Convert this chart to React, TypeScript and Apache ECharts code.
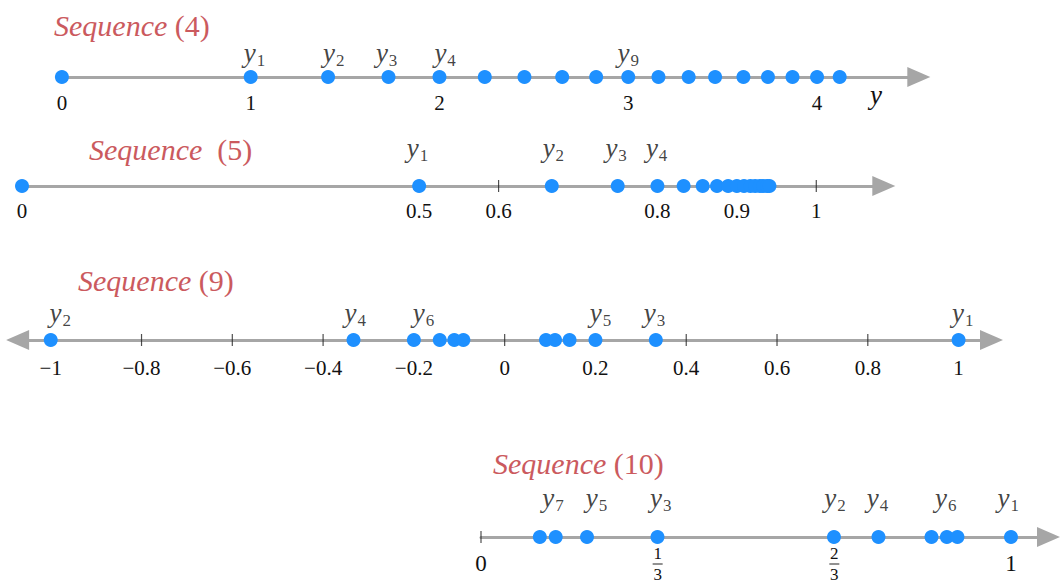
import React, { useEffect, useRef } from 'react';
import * as echarts from 'echarts';

// ---------- data ----------
const seq4Points = [0, 1, 1.41, 1.73, 2, 2.24, 2.45, 2.65, 2.83, 3, 3.16, 3.32, 3.46, 3.61, 3.74, 3.87, 4, 4.12];
const seq4TickLabels = [0, 1, 2, 3, 4];
const seq4TickMarks: number[] = [];
const seq4LabelX = [1.02, 1.44, 1.72, 2.03, 3.0];
const seq4LabelIdx = [1, 2, 3, 4, 9];

const seq5Points = [0, 0.5, 0.667, 0.75, 0.8, 0.833, 0.857, 0.875, 0.889, 0.9, 0.909, 0.917, 0.923, 0.929, 0.933, 0.938, 0.941];
const seq5TickLabels = [0, 0.5, 0.6, 0.8, 0.9, 1];
const seq5TickMarks = [0.6, 0.8, 0.9, 1];
const seq5LabelX = [0.498, 0.669, 0.748, 0.799];
const seq5LabelIdx = [1, 2, 3, 4];

const seq9Points = [1, -1, 0.333, -0.333, 0.2, -0.2, 0.143, -0.143, 0.111, -0.111, 0.091, -0.091];
const seq9TickLabels = [-1, -0.8, -0.6, -0.4, -0.2, 0, 0.2, 0.4, 0.6, 0.8, 1];
const seq9TickMarks = [-0.8, -0.6, -0.4, -0.2, 0, 0.2, 0.4, 0.6, 0.8];
const seq9LabelX = [1.009, -0.979, 0.33, -0.329, 0.211, -0.179];
const seq9LabelIdx = [1, 2, 3, 4, 5, 6];

const seq10Points = [1, 0.666, 0.333, 0.75, 0.2, 0.85, 0.141, 0.879, 0.111, 0.899];
const seq10TickValues = [0, 0.3333, 0.6667, 1];
const seq10TickText = ['0', '1/3', '2/3', '1'];
const seq10TickMarks = [0];
const seq10LabelX = [0.995, 0.668, 0.339, 0.748, 0.218, 0.877, 0.136];
const seq10LabelIdx = [1, 2, 3, 4, 5, 6, 7];

const titleNumbers = ['4', '5', '9', '10'];

// ---------- styles ----------
const SERIF = "'Liberation Serif', 'DejaVu Serif', serif";
const DOT = '#1e90ff';
const AXIS = '#a6a6a6';
const TITLE = '#cb5a5e';

type Cfg = {
  lineY: number;
  left: number;
  right: number;
  min: number;
  max: number;
  points: number[];
  labelX: number[];
  labelIdx: number[];
  tickValues: number[];
  tickText?: string[];
  tickMarks: number[];
  labelGap: number;
  startArrow: boolean;
  labelMargin: number;
};

const cfgs: Cfg[] = [
  { lineY: 77, left: 61.9, right: 918.8, min: 0, max: 4.539, points: seq4Points, labelX: seq4LabelX, labelIdx: seq4LabelIdx, tickValues: seq4TickLabels, tickMarks: seq4TickMarks, labelGap: 13, startArrow: false, labelMargin: 15 },
  { lineY: 186, left: 22, right: 883.8, min: 0, max: 1.085, points: seq5Points, labelX: seq5LabelX, labelIdx: seq5LabelIdx, tickValues: seq5TickLabels, tickMarks: seq5TickMarks, labelGap: 27, startArrow: false, labelMargin: 14 },
  { lineY: 340, left: 17.6, right: 991.5, min: -1.073, max: 1.0725, points: seq9Points, labelX: seq9LabelX, labelIdx: seq9LabelIdx, tickValues: seq9TickLabels, tickMarks: seq9TickMarks, labelGap: 16, startArrow: true, labelMargin: 17 },
  { lineY: 537, left: 481, right: 1048.5, min: 0, max: 1.0708, points: seq10Points, labelX: seq10LabelX, labelIdx: seq10LabelIdx, tickValues: seq10TickValues, tickText: seq10TickText, tickMarks: seq10TickMarks, labelGap: 28, startArrow: false, labelMargin: 9 },
];

const titlePos = [
  { x: 54, y: 25, gap: ' ' },
  { x: 89, y: 149, gap: '  ' },
  { x: 78, y: 280, gap: ' ' },
  { x: 493, y: 463, gap: ' ' },
];

function buildOption() {
  const grid = cfgs.map((c) => ({ left: c.left, width: c.right - c.left, top: c.lineY - 40, height: 40 }));
  const xAxis = cfgs.map((c, i) => ({
    type: 'value',
    gridIndex: i,
    min: c.min,
    max: c.max,
    splitLine: { show: false },
    axisTick: { show: false },
    axisLine: {
      show: true,
      onZero: false,
      symbol: [c.startArrow ? 'triangle' : 'none', 'triangle'],
      symbolSize: [20, 23],
      lineStyle: { color: AXIS, width: 3 },
    },
    axisLabel: {
      customValues: c.tickValues,
      margin: c.labelMargin,
      color: '#111',
      fontFamily: SERIF,
      fontSize: 21,
      formatter: (v: number) => {
        if (c.tickText) {
          const k = c.tickValues.findIndex((t) => Math.abs(t - v) < 1e-6);
          const t = k >= 0 ? c.tickText[k] : String(v);
          if (t.includes('/')) {
            const [a, b] = t.split('/');
            return `{f|${a}}\n{bar| }\n{f|${b}}`;
          }
          return `{big|${t}}`;
        }
        const s = String(v);
        return s.replace('-', '\u2212');
      },
      rich: {
        f: { fontFamily: SERIF, fontSize: 17, lineHeight: 15, color: '#111', align: 'center' },
        bar: { width: 10, height: 1, lineHeight: 6, fontSize: 1, backgroundColor: '#222', align: 'center' },
        big: { fontFamily: SERIF, fontSize: 23, color: '#111', padding: [6, 0, 0, 0] },
      },
    },
  }));
  const yAxis = cfgs.map((c, i) => ({ type: 'value', gridIndex: i, min: 0, max: 1, show: false }));

  const series: any[] = [];
  cfgs.forEach((c, i) => {
    series.push({
      type: 'scatter',
      xAxisIndex: i,
      yAxisIndex: i,
      symbol: 'rect',
      symbolSize: [1.2, 12],
      itemStyle: { color: '#222' },
      z: 3,
      silent: true,
      data: c.tickMarks.map((v) => [v, 0]),
    });
    series.push({
      type: 'scatter',
      xAxisIndex: i,
      yAxisIndex: i,
      symbol: 'circle',
      symbolSize: 14,
      itemStyle: { color: DOT, opacity: 1 },
      z: 4,
      data: c.points.map((v) => [v, 0]),
    });
    series.push({
      type: 'scatter',
      xAxisIndex: i,
      yAxisIndex: i,
      symbolSize: 1,
      itemStyle: { color: 'transparent' },
      z: 5,
      data: c.labelX.map((x, k) => ({ value: [x, 0], name: String(c.labelIdx[k]) })),
      label: {
        show: true,
        position: 'top',
        distance: c.labelGap,
        formatter: (p: any) => `{v|y}{s|${p.name}}`,
        rich: {
          v: { fontFamily: SERIF, fontStyle: 'italic', fontSize: 27, lineHeight: 24, color: '#111', verticalAlign: 'top' },
          s: { fontFamily: SERIF, fontSize: 17, lineHeight: 12, color: '#111', verticalAlign: 'top', padding: [12, 0, 0, 1] },
        },
      },
    });
  });

  const graphic: any[] = titlePos.map((t, i) => ({
    type: 'text',
    x: t.x,
    y: t.y,
    style: {
      text: `{i|Sequence}${t.gap}{n|(${titleNumbers[i]})}`,
      verticalAlign: 'middle',
      font: `30px ${SERIF}`,
      fill: TITLE,
      rich: {
        i: { fontFamily: SERIF, fontStyle: 'italic', fontSize: 30, fill: TITLE },
        n: { fontFamily: SERIF, fontSize: 30, fill: TITLE },
      },
    },
  }));
  graphic.push({
    type: 'text',
    x: 876,
    y: 95,
    style: {
      text: 'y',
      align: 'center',
      verticalAlign: 'middle',
      font: `italic 27px ${SERIF}`,
      fill: '#111',
    },
  });

  return { animation: false, backgroundColor: '#fff', grid, xAxis, yAxis, series, graphic };
}

export default function App() {
  const ref = useRef<HTMLDivElement>(null);
  useEffect(() => {
    if (!ref.current) return;
    const chart = echarts.init(ref.current, undefined, { renderer: 'svg' });
    chart.setOption(buildOption() as any);
    return () => chart.dispose();
  }, []);
  return <div ref={ref} style={{ position: 'absolute', left: 0, top: 0, width: 1060, height: 583 }} />;
}
